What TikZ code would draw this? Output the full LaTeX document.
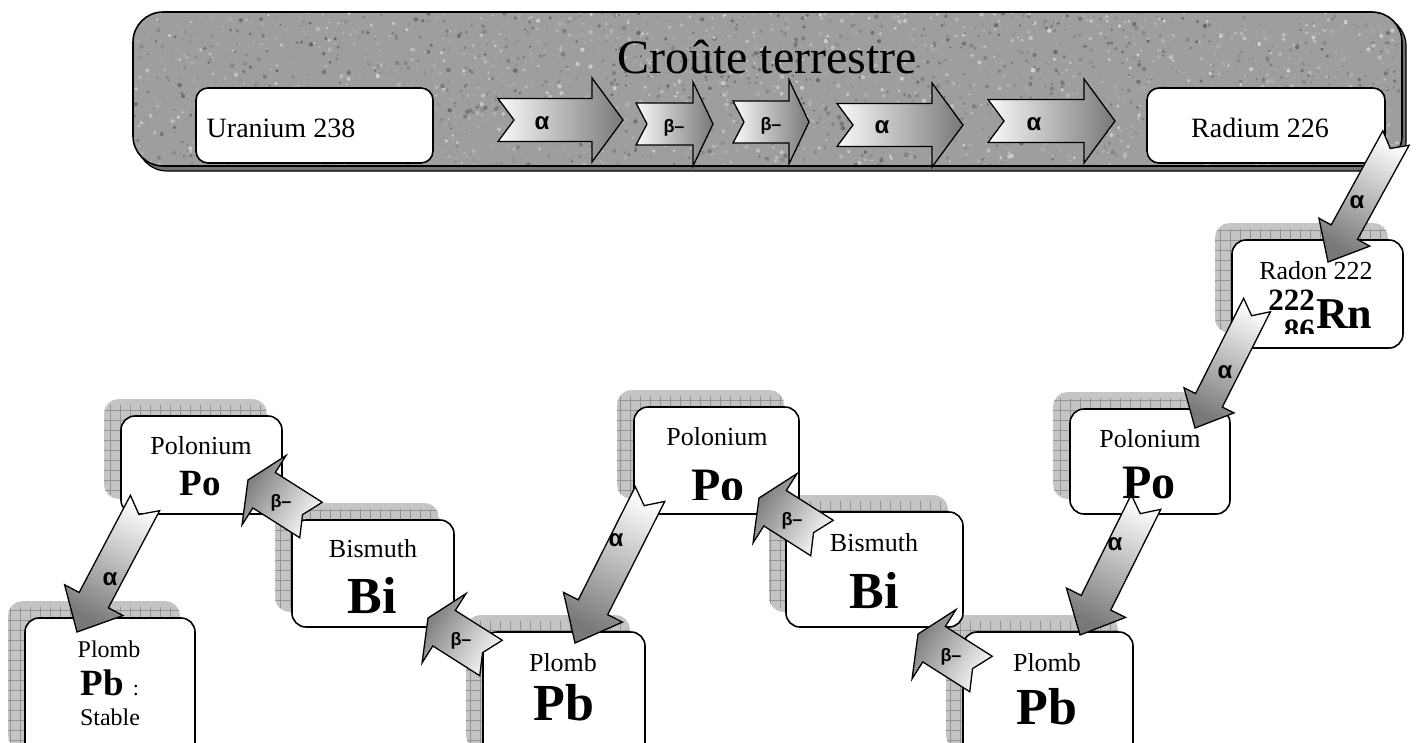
\documentclass[tikz,border=0pt]{standalone}
\usepackage{fontspec}
\setmainfont{Liberation Serif}
\newfontfamily\lsans{Liberation Sans}
\pgfdeclarelayer{bg}
\pgfsetlayers{bg,main}
\definecolor{arrdark}{gray}{0.47}
\definecolor{arrlight}{gray}{0.98}
\definecolor{shfill}{gray}{0.77}
\definecolor{shgrid}{gray}{0.58}
\definecolor{crust}{gray}{0.62}
\newcommand\fs[1]{\fontsize{#1}{#1}\selectfont}
\tikzset{
  box/.style={draw, line width=1.6pt, fill=white, rounded corners=14pt, inner sep=0pt},
  topbox/.style={box, rounded corners=12pt},
  arrowline/.style={draw, line width=1.3pt, line join=miter},
  albl/.style={font=\lsans\bfseries\fs{24}, inner sep=0pt},
  blbl/.style={font=\lsans\bfseries\fs{18}, inner sep=0pt},
  name26/.style={font=\fs{26}, anchor=base, inner sep=0pt},
  sym/.style={font=\bfseries\fs{52}, anchor=base, inner sep=0pt},
}
\newcommand\blockarr[6]{%
  \path (#1); \pgfgetlastxy{\bxa}{\bya}%
  \path (#2); \pgfgetlastxy{\bxb}{\byb}%
  \pgfmathsetmacro\bdx{\bxb-\bxa}%
  \pgfmathsetmacro\bdy{\byb-\bya}%
  \pgfmathsetmacro\bang{atan2(\bdy,\bdx)}%
  \pgfmathsetmacro\blen{veclen(\bdx,\bdy)}%
  \pgfmathsetmacro\bneck{\blen-#5}%
  \pgfmathsetmacro\bsh{\bang-90}%
  \begin{scope}[shift={(#1)},rotate=\bang]
    \shadedraw[arrowline, top color=arrdark, bottom color=arrlight, shading angle=\bsh]
      (0pt,#3pt) -- (\bneck pt,#3pt) -- (\bneck pt,#4pt) -- (\blen pt,0pt)
      -- (\bneck pt,-#4pt) -- (\bneck pt,-#3pt) -- (0pt,-#3pt) -- (#6pt,0pt) -- cycle;
  \end{scope}}
\newcommand\gridshadow[1]{%
  \begin{scope}
    \clip[rounded corners=14pt] ([shift={(-16pt,16pt)}]#1.south west) rectangle ([shift={(-16pt,16pt)}]#1.north east);
    \fill[shfill] ([shift={(-16pt,16pt)}]#1.south west) rectangle ([shift={(-16pt,16pt)}]#1.north east);
    \draw[shgrid, line width=0.6pt, step=10pt] ([shift={(-20pt,20pt)}]#1.south west) grid ([shift={(-10pt,10pt)}]#1.north east);
  \end{scope}}
\begin{document}
\begin{tikzpicture}[x=1pt,y=-1pt]
\useasboundingbox (0,0) rectangle (1416,742);
\clip (0,0) rectangle (1416,742);

% ---- crust box ----
\draw[line width=1.2pt, fill=black!55, rounded corners=30pt] (137,16) rectangle (1406,171);
\fill[crust, rounded corners=30pt] (133,12) rectangle (1402,166);
\begin{scope}
  \clip[rounded corners=30pt] (133,12) rectangle (1402,166);
  \pgfmathsetseed{7}
  \foreach \i in {1,...,2800}{%
    \pgfmathsetmacro\px{133+1269*rnd}%
    \pgfmathsetmacro\py{12+154*rnd}%
    \pgfmathsetmacro\gv{18+42*rnd}%
    \pgfmathsetmacro\rr{0.6+1.7*rnd}%
    \fill[black!\gv!white] (\px,\py) circle[radius=\rr pt];
  }
\end{scope}
\draw[line width=1.6pt, rounded corners=30pt] (133,12) rectangle (1402,166);
\node[font=\fs{48}, anchor=base, inner sep=0pt] (title) at (767,73) {Croûte terrestre};

% ---- boxes ----
\node[topbox, minimum width=237pt, minimum height=75pt] (u238) at (314.5,125.5) {};
\node[topbox, minimum width=238pt, minimum height=75pt] (ra226) at (1266,125.5) {};
\node[box, minimum width=171pt, minimum height=108pt] (rn) at (1317.5,294) {};
\node[box, minimum width=160pt, minimum height=105pt] (poR) at (1150,461.5) {};
\node[box, minimum width=170pt, minimum height=133pt] (pbR) at (1048,698.5) {};
\node[box, minimum width=177pt, minimum height=115pt] (biR) at (874.5,569.5) {};
\node[box, minimum width=165pt, minimum height=107pt] (poM) at (716.5,460.5) {};
\node[box, minimum width=162pt, minimum height=133pt] (pbM) at (564,698.5) {};
\node[box, minimum width=162pt, minimum height=107pt] (biL) at (373,573.5) {};
\node[box, minimum width=161pt, minimum height=98pt] (poL) at (201.5,465) {};
\node[box, minimum width=170pt, minimum height=147pt] (pbL) at (110,691.5) {};

\begin{pgfonlayer}{bg}
  \foreach \b in {rn,poR,pbR,biR,poM,pbM,biL,poL,pbL}{\gridshadow{\b}}
\end{pgfonlayer}

% ---- arrow end points ----
\coordinate (h1t) at (498,120);  \coordinate (h1h) at (623,120);
\coordinate (h2t) at (636,124);  \coordinate (h2h) at (713,124);
\coordinate (h3t) at (733,122);  \coordinate (h3h) at (809,122);
\coordinate (h4t) at (837,125);  \coordinate (h4h) at (963,125);
\coordinate (h5t) at (988,121);  \coordinate (h5h) at (1115,121);
\coordinate (aAt) at (1396,138); \coordinate (aAh) at (1328,262);
\coordinate (aBt) at (1257,305); \coordinate (aBh) at (1195,428);
\coordinate (aCt) at (1146,502); \coordinate (aCh) at (1080,635);
\coordinate (aDt) at (650,494);  \coordinate (aDh) at (575,643);
\coordinate (aEt) at (145,503);  \coordinate (aEh) at (77,632);
\coordinate (b1t) at (311,520);  \coordinate (b1h) at (248,480);
\coordinate (b2t) at (491,658);  \coordinate (b2h) at (428,618);
\coordinate (b3t) at (822,538);  \coordinate (b3h) at (759,498);
\coordinate (b4t) at (981,674);  \coordinate (b4h) at (918,634);

% ---- arrows ----
\blockarr{h1t}{h1h}{21.5}{42}{31}{16}
\blockarr{h2t}{h2h}{21}{42}{20}{11}
\blockarr{h3t}{h3h}{21}{42}{20}{11}
\blockarr{h4t}{h4h}{21.5}{42}{31}{16}
\blockarr{h5t}{h5h}{21.5}{42}{31}{16}
\blockarr{aAt}{aAh}{15}{29}{34}{12}
\blockarr{aBt}{aBh}{15}{28}{31}{12}
\blockarr{aCt}{aCh}{16.5}{33}{36}{13}
\blockarr{aDt}{aDh}{16.5}{33}{40}{13}
\blockarr{aEt}{aEh}{16.5}{33}{36}{13}
\blockarr{b1t}{b1h}{21}{41}{19}{10}
\blockarr{b2t}{b2h}{21}{41}{19}{10}
\blockarr{b3t}{b3h}{21}{41}{19}{10}
\blockarr{b4t}{b4h}{21}{41}{19}{10}

% ---- arrow labels ----
\node[albl] (l1) at (542,123) {α};
\node[blbl] (l2) at (674,128) {β–};
\node[blbl] (l3) at (771,126) {β–};
\node[albl] (l4) at (882,127) {α};
\node[albl] (l5) at (1034,124) {α};
\node[albl] (lA) at (1357,202) {α};
\node[albl] (lB) at (1225,372) {α};
\node[albl] (lC) at (1115,544) {α};
\node[albl] (lD) at (616,540) {α};
\node[albl] (lE) at (110,579) {α};
\node[blbl] (lb1) at (281,503) {β–};
\node[blbl] (lb2) at (461,641) {β–};
\node[blbl] (lb3) at (792,521) {β–};
\node[blbl] (lb4) at (951,657) {β–};

% ---- texts ----
\node[font=\fs{28}, anchor=base, inner sep=0pt] (tu) at (281,137) {Uranium 238};
\node[font=\fs{28}, anchor=base, inner sep=0pt] (tra) at (1260,137) {Radium 226};

\node[name26] (trn) at (1316,279) {Radon 222};
\node[font=\bfseries\fs{31}, anchor=base east, inner sep=0pt] (trnA) at (1315,310) {222};
\begin{scope}
  \clip (1220,240) rectangle (1410,333);
  \node[font=\bfseries\fs{31}, anchor=base east, inner sep=0pt] (trnZ) at (1315,340) {86};
\end{scope}
\node[font=\bfseries\fs{44}, anchor=base west, inner sep=0pt] (trnS) at (1316,328) {Rn};

\node[name26] (tpoR) at (1150,447) {Polonium};
\node[sym, font=\bfseries\fs{48}] (spoR) at (1149,498) {Po};

\node[name26] (tpoM) at (717,445) {Polonium};
\begin{scope}
  \clip (630,400) rectangle (805,499);
  \node[sym, font=\bfseries\fs{48}] (spoM) at (718,501) {Po};
\end{scope}

\node[name26] (tbiR) at (874,551) {Bismuth};
\node[sym] (sbiR) at (874,608) {Bi};

\node[name26] (tpbR) at (1047,671) {Plomb};
\node[sym] (spbR) at (1047,724) {Pb};

\node[name26] (tpbM) at (563,671) {Plomb};
\node[sym] (spbM) at (564,720) {Pb};

\node[name26] (tbiL) at (373,557) {Bismuth};
\node[sym] (sbiL) at (372,613) {Bi};

\node[name26] (tpoL) at (201,454) {Polonium};
\node[sym, font=\bfseries\fs{37}] (spoL) at (200,495) {Po};

\node[name26, font=\fs{24}] (tpbL) at (109,657) {Plomb};
\node[sym, font=\bfseries\fs{37}] (spbL) at (102,695) {Pb};
\node[name26, font=\fs{22}] (colL) at (136,695) {:};
\node[name26, font=\fs{24}] (stL) at (110,725) {Stable};
\end{tikzpicture}
\end{document}
